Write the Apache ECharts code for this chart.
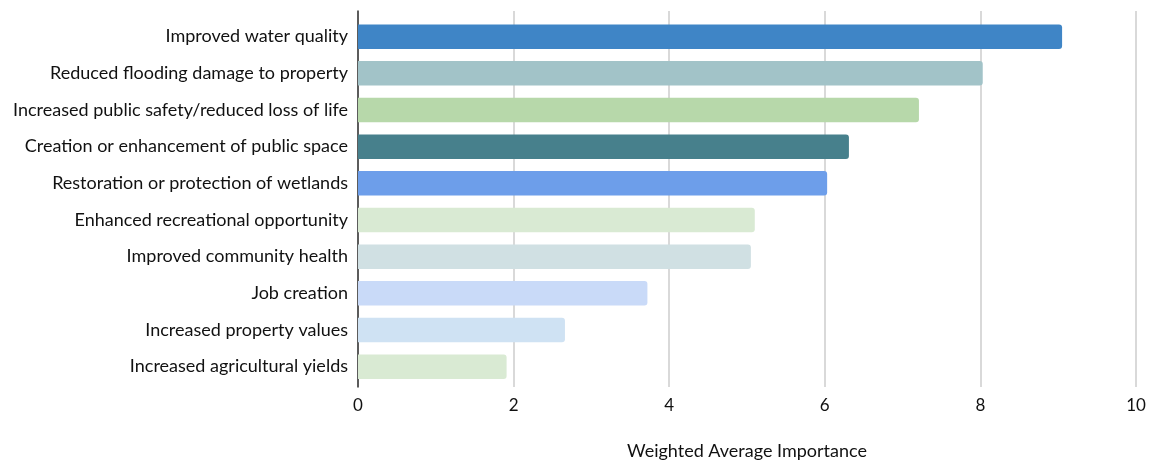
<!DOCTYPE html>
<html>
<head>
<meta charset="utf-8">
<script src="https://cdn.jsdelivr.net/npm/echarts@6/dist/echarts.min.js"></script>
<style>html,body{margin:0;padding:0;background:#fff;}#c{width:1151px;height:465px;}</style>
</head>
<body>
<div id="c"></div>
<script>
const categories = [
  "Improved water quality",
  "Reduced flooding damage to property",
  "Increased public safety/reduced loss of life",
  "Creation or enhancement of public space",
  "Restoration or protection of wetlands",
  "Enhanced recreational opportunity",
  "Improved community health",
  "Job creation",
  "Increased property values",
  "Increased agricultural yields"
];
const values = [9.05, 8.03, 7.21, 6.31, 6.03, 5.1, 5.05, 3.72, 2.66, 1.91];
const barColors = ["#3f85c6", "#a2c3c8", "#b7d8aa", "#47808c", "#6d9eea", "#d9ead3", "#d0e0e3", "#c9daf8", "#cfe2f3", "#d9ead3"];
const xTicks = [0, 2, 4, 6, 8, 10];
const xName = "Weighted Average Importance";

const FONT = "Lato";
const chart = echarts.init(document.getElementById('c'));
chart.setOption({
  animation: false,
  textStyle: { fontFamily: FONT },
  grid: [
    { left: 358, right: 15, top: 18.3, bottom: 80, containLabel: false },
    { left: 358, right: 15, top: 11, bottom: 74, containLabel: false }
  ],
  xAxis: [
    { gridIndex: 0, type: 'value', min: 0, max: 10, interval: 2, show: false },
    {
      gridIndex: 1, type: 'value', min: xTicks[0], max: xTicks[xTicks.length - 1], interval: 2,
      axisLine: { show: false }, axisTick: { show: false },
      splitLine: { show: true, lineStyle: { color: '#cccccc', width: 1.5 } },
      axisLabel: { color: '#111', fontSize: 17, margin: 10, fontFamily: FONT },
      name: xName, nameLocation: 'middle', nameGap: 55,
      nameTextStyle: { color: '#111', fontSize: 18, fontFamily: FONT }
    }
  ],
  yAxis: [
    {
      gridIndex: 0, type: 'category', data: categories, inverse: true,
      axisLine: { show: false }, axisTick: { show: false }, splitLine: { show: false },
      axisLabel: { color: '#111', fontSize: 18, margin: 10, fontFamily: FONT }
    },
    {
      gridIndex: 1, type: 'value', min: 0, max: 1,
      axisLine: { show: true, onZero: false, lineStyle: { color: '#333', width: 1.5 } },
      axisTick: { show: false }, axisLabel: { show: false }, splitLine: { show: false }
    }
  ],
  series: [{
    type: 'bar', xAxisIndex: 0, yAxisIndex: 0, barWidth: 24.5, z: 3,
    data: values.map((v, i) => ({ value: v, itemStyle: { color: barColors[i], borderRadius: [0, 3, 3, 0] } }))
  }]
});
</script>
</body>
</html>
